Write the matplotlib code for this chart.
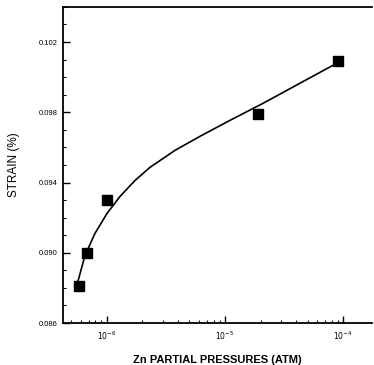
import matplotlib
matplotlib.use("Agg")
import matplotlib.pyplot as plt
import numpy as np
from matplotlib.ticker import FixedLocator, NullFormatter, LogLocator

# measured points (Zn partial pressure in atm, strain in %)
pressure = [5.79e-7, 6.77e-7, 1.0e-6, 1.91e-5, 9.07e-5]
strain = [0.0881, 0.0900, 0.0930, 0.0979, 0.1009]

# fitted curve
curve_log_p = [-6.254, -6.237, -6.186, -6.102, -6.0, -5.890, -5.763, -5.636,
               -5.424, -5.212, -4.958, -4.678, -4.364, -4.068]
curve_strain = [0.08817, 0.08857, 0.08983, 0.09109, 0.09223, 0.09320, 0.09411,
                0.09486, 0.09583, 0.09663, 0.09754, 0.09851, 0.09966, 0.10074]

y_ticks = [0.086, 0.090, 0.094, 0.098, 0.102]
y_tick_labels = ["0.086", "0.090", "0.094", "0.098", "0.102"]
x_ticks = [1e-6, 1e-5, 1e-4]
x_tick_labels = [r"$10^{-6}$", r"$10^{-5}$", r"$10^{-4}$"]

plt.rcParams['font.family'] = ['Liberation Sans', 'DejaVu Sans']

fig = plt.figure(figsize=(3.74, 3.65), dpi=100)
ax = fig.add_axes([0.168, 0.115, 0.827, 0.866])

ax.plot(10 ** np.array(curve_log_p), curve_strain, color='black', lw=1.2)
ax.plot(pressure, strain, 's', color='black', markersize=6.5)

ax.set_xscale('log')
ax.set_xlim(10 ** -6.373, 10 ** -3.754)
ax.set_ylim(0.086, 0.104)

ax.xaxis.set_major_locator(FixedLocator(x_ticks))
ax.set_xticklabels(x_tick_labels)
ax.xaxis.set_minor_locator(LogLocator(base=10, subs=np.arange(2, 10)))
ax.xaxis.set_minor_formatter(NullFormatter())
ax.set_yticks(y_ticks)
ax.set_yticklabels(y_tick_labels)
ax.set_yticks(np.arange(0.086, 0.1041, 0.001), minor=True)

ax.tick_params(which='major', direction='in', length=5, width=1.0, labelsize=5.5)
ax.tick_params(which='minor', direction='in', length=2.5, width=0.8)
ax.tick_params(axis='y', right=False)
ax.tick_params(axis='x', pad=5)

ax.spines['right'].set_visible(False)
for s in ['left', 'top', 'bottom']:
    ax.spines[s].set_linewidth(1.3)

ax.set_xlabel("Zn PARTIAL PRESSURES (ATM)", fontsize=8, fontweight='bold', labelpad=9)
ax.set_ylabel("STRAIN (%)", fontsize=8.5, labelpad=14)

fig.savefig("out.png", dpi=100)
